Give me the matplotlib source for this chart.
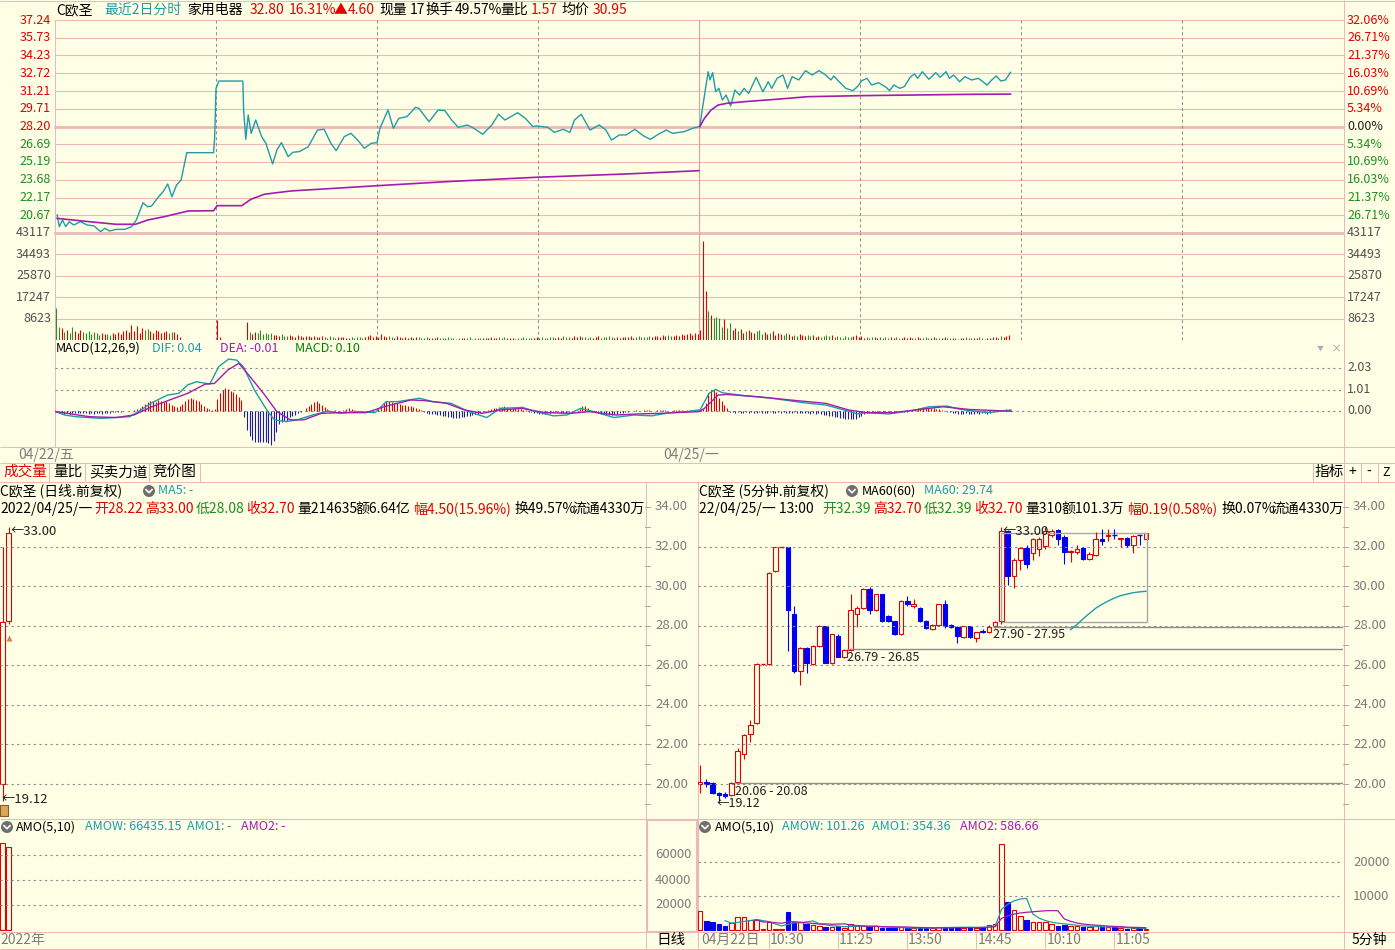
import numpy as np
import matplotlib.pyplot as plt
import matplotlib.transforms as mtransforms
from matplotlib.patches import Rectangle, Circle

plt.rcParams['font.family'] = ['Noto Sans CJK SC', 'DejaVu Sans']

# ---------------- data: intraday (2 days, minute index; day 2 offset by 240) ----------------
PRICE_TICKS = [37.24, 35.73, 34.23, 32.72, 31.21, 29.71, 28.20, 26.69, 25.19, 23.68, 22.17, 20.67]
PCT_TICKS = ['32.06%', '26.71%', '21.37%', '16.03%', '10.69%', '5.34%', '0.00%',
             '5.34%', '10.69%', '16.03%', '21.37%', '26.71%']
VOL_TICKS = [43117, 34493, 25870, 17247, 8623]
MACD_TICKS = [2.03, 1.01, 0.00]
TIME_GRID = [60, 120, 180, 300, 360, 420]

PRICE_D1 = [(0.8, 20.69), (1.6, 19.70), (2.8, 20.26), (4, 19.70), (5.3, 20.12), (7, 19.84), (9.5, 20.12),
            (12, 19.84), (14.5, 19.76), (17, 19.27), (18.6, 19.56), (20.3, 19.33), (22.8, 19.47), (26, 19.47),
            (28.6, 19.70), (30.3, 20.26), (32.8, 21.73), (34.5, 21.39), (36, 21.45), (38.6, 22.24),
            (40.3, 22.67), (42, 23.32), (43.6, 22.24), (45.3, 23.24), (47, 23.66), (49.1, 25.98),
            (59.1, 25.98), (59.5, 27.20), (60, 31.44), (61.1, 32.06), (70, 32.06), (70.3, 29.60),
            (71.1, 27.11), (72, 29.18), (73.1, 27.62), (74.8, 28.75), (77, 27.34), (78.6, 26.77),
            (81.1, 25.02), (82.8, 26.27), (84.4, 26.83), (86.9, 25.64), (88.6, 26.01), (91.1, 26.07),
            (94.4, 26.49), (97.8, 27.90), (100.3, 27.96), (102.8, 26.77), (104.8, 26.15), (107.8, 27.34),
            (110.3, 27.62), (112.8, 27.05), (115.3, 26.35), (117.8, 26.77), (120, 26.83), (121.1, 28.05),
            (124.1, 29.60), (126.1, 28.05), (128.1, 28.89), (131.1, 29.03), (134.4, 29.83), (135.6, 29.74),
            (139.4, 28.61), (142.8, 29.60), (145.3, 29.55), (147.8, 28.75), (150.3, 28.13), (153.6, 28.33),
            (156.1, 28.05), (159.4, 27.54), (162.8, 28.33), (165.3, 29.24), (167.7, 28.75), (172.4, 29.37),
            (175.3, 28.89), (178.1, 28.19), (179.4, 28.25), (183.6, 28.13), (186.1, 27.70), (189.4, 27.96),
            (191.9, 27.70), (193.6, 28.75), (196.1, 29.24), (199.4, 27.90), (202.8, 28.33), (205.3, 27.90),
            (207.4, 27.05), (210.3, 27.48), (212.8, 27.48), (216.1, 27.96), (219.4, 27.39), (221.9, 27.11),
            (224.4, 27.48), (227.8, 27.90), (230.2, 27.62), (234.4, 27.76), (237.7, 28.05), (240, 28.20)]
PRICE_D2 = [(0.3, 28.19), (1.2, 29.60), (3.4, 32.85), (4.1, 32.15), (5.1, 32.77), (6.2, 31.15), (7.4, 31.44),
            (8.7, 30.45), (10.1, 30.87), (11.8, 29.94), (13.4, 31.30), (15.1, 30.87), (16.8, 31.44),
            (18.5, 31.00), (21.3, 32.38), (23.8, 31.15), (25.8, 32.00), (27.1, 31.44), (29.1, 32.29),
            (31.3, 32.57), (33.0, 31.44), (34.7, 32.43), (37.2, 32.15), (39.7, 32.94), (42.2, 32.57),
            (44.7, 32.94), (47.2, 32.57), (49.2, 32.15), (50.2, 32.49), (52.2, 32.00), (54.7, 31.44),
            (57.3, 31.24), (59.3, 31.64), (60.6, 32.08), (62.6, 32.29), (64.3, 31.72), (66.9, 31.92),
            (69.8, 31.52), (71.0, 31.24), (72.6, 31.72), (74.8, 31.44), (76.5, 31.58), (78.7, 32.38),
            (80.3, 32.66), (81.5, 32.29), (83.2, 32.85), (85.7, 32.21), (88.2, 32.77), (89.9, 32.38),
            (92.1, 32.85), (93.3, 32.29), (94.9, 32.57), (97.1, 32.00), (99.1, 32.43), (101.6, 32.15),
            (104.1, 32.29), (107.4, 31.72), (109.1, 32.15), (110.8, 32.49), (112.5, 32.06), (114.2, 32.15),
            (116.1, 32.80)]
AVG_D1 = [(0.8, 20.40), (12.8, 20.12), (22.8, 19.90), (30.0, 19.90), (34.5, 20.26), (40.8, 20.55),
          (49.7, 21.03), (59.1, 21.05), (60.4, 21.48), (69.6, 21.48), (73.0, 22.02), (78.0, 22.45),
          (88.0, 22.73), (104.7, 22.96), (120.5, 23.18), (146.1, 23.52), (179.4, 23.89), (212.8, 24.17),
          (240.0, 24.45)]
AVG_D2 = [(0.3, 28.19), (2.0, 28.89), (4.5, 29.60), (7.1, 30.02), (10.4, 30.17), (17.1, 30.31),
          (30.5, 30.54), (40.5, 30.73), (60.6, 30.82), (79.0, 30.87), (100.8, 30.93), (116.1, 30.95)]

VOL_D1 = [12900, 5400, 4700, 3400, 4000, 2700, 5400, 3800, 3000, 4200,
          3300, 2800, 3600, 2500, 3100, 2700, 2200, 2900, 2400, 2600,
          2100, 2800, 2300, 3200, 2600, 3500, 4200, 3300, 6100, 3800,
          5700, 3000, 4700, 3900, 4400, 3500, 3000, 4100, 3600, 2900,
          3300, 3800, 2800, 3400, 3100, 2600, 1200, 0, 0, 0,
          0, 0, 0, 0, 0, 0, 0, 0, 0, 0,
          8100, 1300, 0, 0, 0, 0, 0, 0, 0, 0,
          0, 7400, 3400, 2600, 3100, 2900, 4000, 2300, 3000, 2500,
          2800, 1900, 2200, 1600, 2400, 1800, 1500, 2100, 1700, 1400,
          1900, 1600, 1300, 1800, 1500, 1200, 1700, 1400, 1100, 1600,
          1300, 1000, 1500, 1200, 900, 1400, 1100, 1300, 1000, 800,
          1200, 900, 1100, 1400, 1000, 1300, 1600, 2200, 1400, 1800,
          1100, 2400, 1500, 1200, 1700, 1300, 1000, 1500, 1100, 900,
          1300, 1000, 1200, 800, 1100, 1400, 900, 1000, 1200, 700,
          1000, 800, 1100, 900, 700, 1000, 1200, 800, 900, 600,
          900, 700, 1000, 800, 1100, 600, 900, 700, 800, 1000,
          700, 900, 1200, 800, 1000, 1400, 900, 1100, 700, 800,
          1000, 600, 900, 800, 1100, 700, 900, 1000, 800, 1200,
          900, 1300, 1000, 800, 1100, 1400, 900, 1200, 1000, 1500,
          1100, 1300, 1000, 1600, 1200, 1700, 1300, 1100, 1000, 1400,
          900, 1200, 1500, 1000, 1300, 1100, 1600, 1200, 900, 1300,
          1000, 1400, 1100, 1200, 1500, 1000, 1300, 1700, 1200, 1400,
          1100, 1600, 1300, 1800, 1500, 1400, 1900, 1600, 2000, 1700,
          1500, 2100, 1800, 2400, 2000, 2300, 2700, 2200, 2900, 2600]
VOL_D2 = [4000, 39800, 19800, 11500, 10100, 8800, 9200, 8800, 5400, 8300,
          4700, 6700, 4000, 5000, 3600, 4400, 3000, 3800, 4200, 3300,
          2800, 3500, 3900, 2600, 3100, 2400, 2900, 3600, 2200, 2700,
          2300, 2000, 2900, 2500, 1800, 2100, 1700, 2400, 1900, 1500,
          2000, 1600, 2200, 1400, 1800, 1300, 1700, 2000, 1500, 1900,
          1200, 1600, 1400, 1000, 1700, 1300, 1100, 1500, 2000, 1200,
          1800, 1000, 1300, 900, 1100, 1400, 800, 1200, 1000, 1300,
          900, 1100, 800, 1400, 1000, 700, 1200, 900, 1100, 800,
          1000, 1300, 900, 700, 1100, 800, 1000, 1200, 700, 900,
          800, 1100, 900, 700, 1000, 800, 600, 900, 700, 1100,
          800, 1000, 700, 900, 1200, 800, 600, 1000, 900, 1100,
          1300, 900, 1500, 1100, 1700, 1900]

# MACD histogram, in hundredths
MACD_D1 = [-3, -8, -10, -12, -10, -12, -9, -11, -8, -10,
           -9, -11, -12, -10, -13, -11, -10, -12, -9, -11,
           -8, -6, -4, -5, -3, -2, -2, 0, 2, 3,
           8, 15, 25, 35, 42, 45, 48, 44, 50, 46,
           42, 45, 38, 30, 25, 20, 22, 35, 48, 55,
           62, 58, 52, 45, 35, 25, 15, 8, 4, 10,
           55, 85, 100, 107, 105, 95, 88, 78, 65, 50,
           -30, -90, -120, -135, -145, -145, -145, -145, -145, -150,
           -160, -140, -100, -60, -50, -45, -45, -30, -25, -20,
           -8, -3, 2, 12, 25, 35, 42, 45, 40, 30,
           20, 8, -3, -5, 3, -4, 2, 6, 10, 12,
           8, 5, -3, -5, -6, -5, -4, -6, -3, 2,
           10, 25, 40, 48, 45, 42, 40, 38, 35, 30,
           28, 25, 22, 20, 15, 10, 5, -3, -8, -12,
           -15, -12, -18, -20, -22, -25, -28, -30, -32, -35,
           -33, -30, -28, -25, -22, -18, -15, -12, -8, -5,
           -3, 3, 8, 12, 15, 18, 20, 22, 18, 15,
           12, 15, 10, 8, 5, 3, -3, -5, -8, -10,
           -12, -15, -12, -10, -8, -6, -5, -6, -8, -10,
           -8, -6, -5, -3, -2, 10, 22, 25, 15, 5,
           -3, -5, -8, -12, -15, -18, -20, -18, -15, -12,
           -10, -8, -5, -3, -2, 2, 3, 2, -2, 3,
           3, 4, 2, -2, 3, 5, 4, 3, 2, -2,
           3, 4, 5, 3, 2, 4, 5, 6, 5, 4]
MACD_D2 = [3, 10, 40, 80, 100, 100, 90, 60, 45, 30,
           15, -5, -6, -8, -7, -9, -8, -6, -9, -7,
           -8, -10, -7, -9, -8, -10, -7, -9, -8, -6,
           -9, -7, -10, -8, -9, -7, -10, -8, -11, -9,
           -8, -12, -10, -13, -11, -15, -18, -20, -22, -25,
           -28, -30, -32, -35, -38, -40, -40, -38, -36, -30,
           -25, -15, -8, -5, -4, -6, -5, -4, -6, -5,
           -4, -5, -6, -4, -5, -3, -4, -3, -2, 3,
           8, 12, 15, 18, 20, 18, 15, 12, 10, 8,
           5, 2, -3, -6, -8, -10, -12, -14, -12, -10,
           -12, -14, -13, -11, -12, -10, -8, -12, -10, -6,
           3, 5, 4, 6, 8, 10]
DIF = [(0.3, -0.03), (3.6, -0.19), (7.8, -0.27), (16.9, -0.35), (27.8, -0.27), (31.1, -0.03), (36.1, 0.39),
       (41.9, 0.75), (46.1, 0.83), (49.4, 1.23), (52.7, 1.38), (57.7, 1.27), (61.0, 2.09), (64.7, 2.45),
       (67.7, 2.40), (70.2, 2.09), (74.3, 0.99), (79.3, -0.03), (81.8, -0.42), (86.0, -0.50), (90.2, -0.42),
       (96.0, -0.19), (101.8, 0.0), (106.0, -0.11), (112.6, -0.03), (119.3, -0.08), (123.4, 0.44),
       (127.6, 0.44), (135.9, 0.60), (140.9, 0.44), (147.6, 0.36), (154.2, -0.03), (160.9, -0.31),
       (165.9, 0.12), (174.2, 0.17), (179.2, -0.03), (185.8, -0.23), (190.8, -0.19), (195.8, 0.12),
       (200.8, -0.03), (208.3, -0.31), (215.8, -0.19), (222.4, -0.23), (229.1, -0.08), (235.7, -0.03),
       (239.9, 0.05), (240.4, 0.05), (243.7, 0.83), (246.2, 1.02), (248.7, 0.86), (257.1, 0.72),
       (267.2, 0.60), (278.9, 0.39), (287.3, 0.28), (294.0, 0.05), (299.0, -0.14), (302.4, -0.08),
       (310.7, -0.14), (320.8, 0.05), (325.8, 0.20), (332.5, 0.23), (337.6, 0.07), (347.6, -0.08),
       (356.3, 0.04)]
DEA = [(0.3, -0.03), (12.8, -0.27), (22.8, -0.31), (29.4, -0.19), (36.1, 0.20), (42.7, 0.52), (49.4, 0.83),
       (56.0, 1.27), (59.4, 1.30), (64.4, 1.93), (68.5, 2.25), (72.7, 1.62), (77.7, 0.83), (82.7, -0.03),
       (87.7, -0.42), (92.7, -0.42), (99.3, -0.11), (106.0, -0.08), (115.9, -0.08), (122.6, 0.20),
       (132.6, 0.52), (137.6, 0.49), (145.9, 0.36), (152.6, 0.05), (159.2, -0.11), (165.9, 0.05),
       (174.2, 0.12), (182.5, -0.08), (192.5, -0.11), (199.1, -0.03), (209.1, -0.19), (217.4, -0.14),
       (225.8, -0.11), (239.9, -0.03), (242.0, 0.12), (247.1, 0.75), (250.4, 0.78), (262.2, 0.67),
       (273.9, 0.52), (287.3, 0.36), (295.7, 0.05), (302.4, -0.08), (312.4, -0.08), (320.8, 0.05),
       (330.9, 0.20), (340.9, 0.07), (356.3, -0.01)]

# ---------------- data: daily K-line ----------------
DAY_O = [20.00, 28.22]
DAY_H = [32.00, 33.00]
DAY_L = [19.12, 28.08]
DAY_C = [28.20, 32.70]
DAY_AMO = [69300, 66435]
DAY_MARK = (1, 27.40)

# ---------------- data: 5-minute K-line ----------------
O5 = [20.00, 20.08, 20.05, 19.55, 19.50, 19.45, 20.08, 21.50, 22.55, 23.10,
      26.05, 26.05, 30.77, 32.00, 32.00, 28.60, 25.70, 26.88, 26.07, 26.95,
      28.00, 26.10, 27.47, 26.44, 26.78, 28.60, 28.90, 29.85, 28.80, 29.60,
      28.50, 28.25, 27.60, 29.27, 29.00, 28.90, 28.25, 27.85, 28.05, 29.10,
      28.05, 27.95, 27.45, 28.00, 27.40, 27.75, 27.70, 27.97, 28.22, 32.78,
      30.50, 31.30, 31.95, 31.70, 31.90, 32.05, 32.60, 32.85, 32.50, 31.75,
      31.75, 31.95, 31.35, 31.55, 32.40, 32.55, 32.62, 32.40, 32.45, 32.10,
      32.62, 32.39]
H5 = [20.97, 20.25, 20.10, 19.60, 19.60, 20.10, 21.80, 22.55, 23.25, 26.10,
      26.08, 30.70, 32.00, 32.00, 32.00, 29.00, 26.90, 26.90, 27.00, 28.05,
      28.00, 27.60, 27.60, 26.80, 29.59, 29.00, 29.90, 29.95, 29.60, 29.60,
      28.55, 28.25, 29.30, 29.50, 29.35, 28.95, 28.30, 28.10, 29.10, 29.30,
      28.10, 28.00, 28.00, 28.00, 27.70, 27.85, 28.05, 28.25, 33.00, 32.85,
      31.40, 32.00, 32.10, 32.45, 32.50, 33.00, 32.90, 32.90, 32.60, 31.85,
      32.10, 32.00, 31.75, 32.75, 32.90, 32.90, 32.90, 32.45, 32.50, 32.60,
      32.65, 32.70]
L5 = [19.55, 19.85, 19.50, 19.12, 19.30, 19.40, 20.00, 21.25, 22.10, 23.05,
      26.00, 26.00, 30.70, 31.98, 26.70, 25.60, 24.99, 25.60, 26.00, 26.90,
      26.10, 26.05, 26.40, 26.35, 26.70, 27.95, 28.85, 28.60, 28.75, 28.20,
      28.20, 27.55, 27.55, 29.00, 28.90, 28.20, 27.85, 27.80, 28.00, 27.90,
      27.90, 27.15, 27.40, 27.40, 27.20, 27.65, 27.65, 27.90, 28.08, 30.05,
      29.90, 30.80, 30.90, 31.30, 31.50, 31.90, 32.50, 32.10, 31.10, 31.20,
      31.60, 31.30, 31.30, 31.50, 32.10, 32.30, 32.40, 32.00, 32.00, 31.70,
      32.10, 32.39]
C5 = [20.08, 20.02, 19.55, 19.45, 19.40, 20.06, 21.65, 22.50, 23.00, 26.05,
      26.06, 30.65, 31.96, 32.00, 28.80, 25.70, 26.88, 26.10, 26.95, 28.00,
      26.13, 27.57, 26.44, 26.78, 28.80, 28.90, 29.85, 28.80, 29.60, 28.25,
      28.25, 27.60, 29.27, 29.10, 29.10, 28.25, 27.90, 28.05, 29.10, 28.00,
      27.95, 27.50, 28.00, 27.45, 27.70, 27.70, 27.95, 28.20, 32.80, 30.50,
      31.30, 31.95, 31.10, 32.40, 32.40, 32.80, 32.80, 32.40, 31.75, 31.80,
      31.90, 31.35, 31.60, 32.40, 32.30, 32.60, 32.58, 32.45, 32.10, 32.55,
      32.58, 32.70]
MA60_START = 59
MA60 = [27.80, 28.05, 28.35, 28.62, 28.88, 29.08, 29.25, 29.40, 29.52, 29.60, 29.67, 29.71, 29.74]
AMO5 = [5600, 2650, 2250, 1750, 1200, 1950, 3700, 3700, 2950, 2950,
        200, 2150, 200, 100, 5400, 2350, 2150, 1650, 1450, 1200,
        800, 800, 1000, 600, 1650, 1000, 1000, 800, 1000, 500,
        500, 500, 700, 500, 500, 500, 500, 500, 700, 800,
        700, 800, 600, 700, 600, 800, 1350, 1750, 25500, 8300,
        5900, 4100, 2750, 2250, 2150, 2250, 1750, 1200, 1450, 1200,
        1000, 800, 800, 1000, 800, 700, 800, 500, 100, 500,
        600, 100]
AMO1_START = 4
AMO1 = [2690, 1960, 2170, 2460, 2700, 3050, 2700, 2390, 1690, 1120,
        1610, 2040, 2040, 2330, 2600, 1760, 1450, 1180, 1050, 880,
        970, 1010, 1050, 1010, 1090, 860, 760, 660, 640, 540,
        540, 540, 540, 500, 540, 600, 640, 700, 720, 720,
        680, 700, 810, 1040, 6000, 7540, 8560, 9110, 9310, 4660,
        3430, 2700, 2230, 1920, 1760, 1570, 1320, 1130, 1050, 960,
        880, 820, 820, 760, 580, 520, 500, 354]
AMO2_START = 9
AMO2 = [2870, 2330, 2280, 2075, 1910, 2330, 2370, 2215, 2010, 1860,
        1685, 1745, 1610, 1690, 1740, 1365, 1230, 1115, 1030, 985,
        915, 885, 855, 825, 815, 700, 650, 600, 570, 540,
        570, 590, 620, 610, 630, 640, 670, 755, 875, 3355,
        4105, 4625, 4955, 5170, 5325, 5480, 5625, 5665, 5610, 3205,
        2495, 2005, 1675, 1480, 1355, 1220, 1065, 970, 900, 765,
        695, 655, 587]
SUPPORT_LEVEL = [20.03, 26.81, 27.95]
SUPPORT_START = [5.6, 23.4, 46.7]
SUPPORT_TEXT = ['20.06 - 20.08', '26.79 - 26.85', '27.90 - 27.95']
BOX_BARS = (48, 71.1)
BOX_PRICE = (28.18, 32.67)
LO_TICKS = [34, 32, 30, 28, 26, 24, 22, 20]
TIME_TICKS = [0, 11, 22, 33, 44, 55, 66]
TIME_LABELS = ['04月22日', '10:30', '11:25', '13:50', '14:45', '10:10', '11:05']

# ---------------- styling ----------------
W, H = 1395, 950
BG = '#FFFFE6'
PINK = '#EDB8B8'
RED = '#E00000'
GREEN = '#1F8F1F'
BLUE = '#0000F5'
NAVY = '#1A1AA8'
TEAL = '#1E9CA8'
PURPLE = '#A21CAF'
GRAY = '#7C7C7C'
DOT = '#8C8C8C'
DOTS = (0, (2, 3))

fig = plt.figure(figsize=(W / 100, H / 100), dpi=100, facecolor=BG)


def box(x0, y0, x1, y1):
    ax = fig.add_axes([x0 / W, 1 - y1 / H, (x1 - x0) / W, (y1 - y0) / H])
    ax.set_facecolor('none')
    ax.axis('off')
    return ax


ov = box(0, 0, W, H)
ov.set_xlim(0, W)
ov.set_ylim(H, 0)


def line(x0, y0, x1, y1, color=PINK, lw=0.75, ls='-'):
    ov.plot([x0, x1], [y0, y1], color=color, lw=lw, ls=ls, solid_capstyle='butt')


def txt(x, y, s, color='k', size=10, ha='left'):
    ov.text(x, y, s, color=color, fontsize=size, ha=ha, va='center')


def runs(x, y, parts, size=10, unit=7.25):
    for s, col in parts:
        txt(x, y, s, col, size)
        x += unit * sum(2 if ord(ch) > 0x2000 else 1 for ch in s)


def icon(x, y):
    ov.add_patch(Circle((x, y), 6, fc='#6E6E6E', ec='none'))
    ov.plot([x - 3, x, x + 3], [y - 1.3, y + 1.7, y - 1.3], color='white', lw=1.2)


def candles(ax, o, h, l, c, width):
    for i, (oo, hh, ll, cc) in enumerate(zip(o, h, l, c)):
        col = RED if cc >= oo else BLUE
        lo_b, hi_b = min(oo, cc), max(oo, cc)
        ax.vlines(i, ll, lo_b, color=col, lw=0.8)
        ax.vlines(i, hi_b, hh, color=col, lw=0.8)
        if hi_b - lo_b < 0.05:
            ax.hlines(cc, i - width / 2, i + width / 2, color=col, lw=1.0)
        else:
            ax.add_patch(Rectangle((i - width / 2, lo_b), width, hi_b - lo_b,
                                   facecolor=BG if col == RED else col, edgecolor=col, lw=0.8))


# ---------------- frame lines ----------------
for y in (0.5, 447, 463, 481.5, 819, 932, 948.5):
    line(0, y, W, y)
line(55, 20, 55, 447)
line(1343.5, 0, 1343.5, 948.5)
line(645.5, 481.5, 645.5, 948.5)
line(697.5, 481.5, 697.5, 948.5)
ov.add_patch(Rectangle((646.5, 820), 50, 112, fill=False, ec=PINK, lw=1.5))

# ---------------- top: intraday price ----------------
ax_p = box(55, 20, 1343, 233)
ax_p.set_xlim(0, 480)
ax_p.set_ylim(19.16, 37.24)
tr = ax_p.get_yaxis_transform()
for v, pct in zip(PRICE_TICKS, PCT_TICKS):
    ax_p.axhline(v, color=PINK, lw=2.0 if v == 28.20 else 0.8, clip_on=False)
    col = RED if v >= 28.20 else GREEN
    ax_p.text(-4 / 1288, v, f'{v:.2f}', transform=tr, ha='right', va='center', color=col, fontsize=9)
    pcol = RED if v > 28.20 else ('#202020' if v == 28.20 else GREEN)
    ax_p.text(1 + 4 / 1288, v, pct, transform=tr, ha='left', va='center', color=pcol, fontsize=9)
for m in TIME_GRID:
    ax_p.axvline(m, color='#8A8A8A', lw=0.7, ls=(0, (3, 3)))
ax_p.axvline(240, color='#D0A8A8', lw=0.9)

m1, p1 = zip(*PRICE_D1)
m2, p2 = zip(*PRICE_D2)
pm = np.concatenate([m1, np.array(m2) + 240])
pp = np.concatenate([p1, p2])
ax_p.plot(pm, pp, color=TEAL, lw=1.0)
a1m, a1v = zip(*AVG_D1)
a2m, a2v = zip(*AVG_D2)
ax_p.plot(a1m, a1v, color=PURPLE, lw=1.2)
ax_p.plot(np.array(a2m) + 240, a2v, color=PURPLE, lw=1.2)

# ---------------- top: intraday volume ----------------
ax_v = box(55, 233, 1343, 340)
ax_v.set_xlim(0, 480)
ax_v.set_ylim(0, 43117)
tr = ax_v.get_yaxis_transform()
for v in VOL_TICKS:
    ax_v.axhline(v, color=PINK, lw=2.0 if v == VOL_TICKS[0] else 0.8, clip_on=False)
    ax_v.text(-4 / 1288, v, str(v), transform=tr, ha='right', va='center', color='#505050', fontsize=9)
    ax_v.text(1 + 4 / 1288, v, str(v), transform=tr, ha='left', va='center', color='#505050', fontsize=9)
for m in TIME_GRID:
    ax_v.axvline(m, color='#8A8A8A', lw=0.7, ls=(0, (3, 3)))
ax_v.axvline(240, color='#D0A8A8', lw=0.9)
tv = np.concatenate([np.arange(len(VOL_D1)), 240 + np.arange(len(VOL_D2))]) + 0.5
vv = np.concatenate([VOL_D1, VOL_D2])
rise = np.interp(tv + 0.5, pm, pp) >= np.interp(tv - 0.5, pm, pp)
ax_v.vlines(tv, 0, vv, colors=np.where(rise, RED, '#2E8B2E'), lw=0.8)

# ---------------- top: MACD ----------------
ax_m = box(55, 340, 1343, 447)
ax_m.set_xlim(0, 480)
ax_m.set_ylim(-1.70, 3.35)
tr = ax_m.get_yaxis_transform()
for v in MACD_TICKS:
    ax_m.axhline(v, color=DOT, lw=0.8, ls=DOTS)
    ax_m.text(1 + 4 / 1288, v, f'{v:.2f}', transform=tr, ha='left', va='center', color='#505050', fontsize=9)
th = np.concatenate([np.arange(len(MACD_D1)), 240 + np.arange(len(MACD_D2))]) + 0.5
hv = np.concatenate([MACD_D1, MACD_D2]) / 100
ax_m.vlines(th, 0, hv, colors=np.where(hv >= 0, RED, NAVY), lw=0.8)
dm, dv = zip(*DIF)
em, ev = zip(*DEA)
ax_m.plot(dm, dv, color=TEAL, lw=1.0)
ax_m.plot(em, ev, color=PURPLE, lw=1.0)

# ---------------- top texts ----------------
for x, s, c in [(56, 'C欧圣', 'k'), (104, '最近2日分时', TEAL), (187, '家用电器', 'k'), (250, '32.80', RED),
                (289, '16.31%', RED), (334, '▲', RED), (348, '4.60', RED), (379, '现量', 'k'), (410, '17', 'k'),
                (425, '换手', 'k'), (455, '49.57%', 'k'), (500, '量比', 'k'), (531, '1.57', RED),
                (562, '均价', 'k'), (593, '30.95', RED)]:
    txt(x, 10, s, c, 10)
for x, s, c in [(56, 'MACD(12,26,9)', 'k'), (152, 'DIF: 0.04', TEAL), (220, 'DEA: -0.01', PURPLE),
                (295, 'MACD: 0.10', '#008000')]:
    txt(x, 348, s, c, 9)
txt(1320, 349, '▼', '#B0B0B0', 5, 'center')
txt(1336, 349, '×', '#A0A0A0', 8, 'center')
txt(18, 455, '04/22/五', GRAY, 10)
txt(663, 455, '04/25/一', GRAY, 10)

# tabs
for x, s, c in [(3, '成交量', RED), (53, '量比', 'k'), (89, '买卖力道', 'k'), (152, '竞价图', 'k')]:
    txt(x, 472, s, c, 10.5)
for x in (48.5, 84.5, 148.5, 199.5):
    line(x, 463, x, 481.5)
txt(1315, 472, '指标', 'k', 10.5)
txt(1352, 472, '+', 'k', 10, 'center')
txt(1369, 472, '-', 'k', 10, 'center')
txt(1386, 472, 'Z', 'k', 9, 'center')
for x in (1312.5, 1360.5, 1377.5, 1394.5):
    line(x, 463, x, 481.5)

# ---------------- lower: daily chart ----------------
LO_LO, LO_HI = 18.282, 35.263
ax_d = box(0, 482, 645, 818)
ax_d.set_xlim(-2.5 / 6, (645 - 2.5) / 6)
ax_d.set_ylim(LO_LO, LO_HI)
ax_5 = box(698, 482, 1343, 818)
ax_5.set_xlim(-2 / 6.28, -2 / 6.28 + 645 / 6.28)
ax_5.set_ylim(LO_LO, LO_HI)
for ax in (ax_d, ax_5):
    tr = ax.get_yaxis_transform()
    for v in LO_TICKS:
        if v < 34:
            ax.axhline(v, color=DOT, lw=0.8, ls=DOTS)
        ax.text(1 + 10 / 645, v, f'{v:.2f}', transform=tr, ha='left', va='center', color=GRAY, fontsize=9.5)
    for v in range(19, 35):
        ax.plot([1, 1 + 5 / 645], [v, v], color='#A8A8A8', lw=0.7, transform=tr, clip_on=False)

candles(ax_d, DAY_O, DAY_H, DAY_L, DAY_C, 0.8)
ax_d.plot(*DAY_MARK, marker='^', color='#F07840', ms=5, mec='none')
ax_d.text(1.3, DAY_H[1] - 0.26, '←33.00', color='#202020', fontsize=9.5, va='center')
ax_d.text(-0.1, DAY_L[0] + 0.12, '←19.12', color='#202020', fontsize=9.5, va='center')
ov.add_patch(Rectangle((0, 805), 8, 11, fc='#D9A860', ec='#8A5A20', lw=0.8))

candles(ax_5, O5, H5, L5, C5, 0.72)
for lv, st, s in zip(SUPPORT_LEVEL, SUPPORT_START, SUPPORT_TEXT):
    ax_5.hlines(lv, st, ax_5.get_xlim()[1], color='#8C8C8C', lw=1.0)
    ax_5.text(st, lv - 0.40, s, color='#202020', fontsize=9, va='center')
ax_5.add_patch(Rectangle((BOX_BARS[0], BOX_PRICE[0]), BOX_BARS[1] - BOX_BARS[0], BOX_PRICE[1] - BOX_PRICE[0],
                         fill=False, ec='#A8A8A8', lw=1.0))
ax_5.plot(np.arange(MA60_START, MA60_START + len(MA60)), MA60, color=TEAL, lw=1.0)
ax_5.text(48.1, 32.78, '←33.00', color='#202020', fontsize=9.5, va='center')
ax_5.text(2.6, 19.02, '←19.12', color='#202020', fontsize=9, va='center')

txt(0, 491, 'C欧圣 (日线.前复权)', 'k', 10)
icon(149, 491)
txt(158, 491, 'MA5: -', TEAL, 9)
runs(0, 509, [('2022/04/25/一', 'k'), ('开28.22', RED), ('高33.00', RED), ('低28.08', GREEN),
              ('收32.70', RED), ('量214635', 'k'), ('额6.64亿', 'k'), ('幅4.50(15.96%)', RED),
              ('换49.57%', 'k'), ('流通4330万', 'k')])
txt(699, 491, 'C欧圣 (5分钟.前复权)', 'k', 10)
icon(852, 491)
txt(862, 491, 'MA60(60)', 'k', 9)
txt(924, 491, 'MA60: 29.74', TEAL, 9)
runs(699, 509, [('22/04/25/一 13:00', 'k'), ('开32.39', GREEN), ('高32.70', RED), ('低32.39', GREEN),
                ('收32.70', RED), ('量310', 'k'), ('额101.3万', 'k'), ('幅0.19(0.58%)', RED),
                ('换0.07%', 'k'), ('流通4330万', 'k')])

# ---------------- lower: AMO panels ----------------
ax_ad = box(0, 820, 645, 932)
ax_ad.set_xlim(ax_d.get_xlim())
ax_ad.set_ylim(-1600, 88000)
ax_a5 = box(698, 820, 1343, 932)
ax_a5.set_xlim(ax_5.get_xlim())
ax_a5.set_ylim(-680, 32550)
for ax, ticks in ((ax_ad, [60000, 40000, 20000]), (ax_a5, [20000, 10000])):
    tr = ax.get_yaxis_transform()
    for v in ticks:
        ax.axhline(v, color=DOT, lw=0.8, ls=DOTS)
        ax.text(1 + 10 / 645, v, str(v), transform=tr, ha='left', va='center', color=GRAY, fontsize=9.5)

ax_ad.bar(np.arange(len(DAY_AMO)), DAY_AMO, width=0.8, color=BG, edgecolor=RED, lw=0.8)
up5 = np.array(C5) >= np.array(O5)
ax_a5.bar(np.arange(len(AMO5)), AMO5, width=0.72, color=np.where(up5, BG, BLUE),
          edgecolor=np.where(up5, RED, BLUE), lw=0.8)
ax_a5.plot(np.arange(AMO1_START, AMO1_START + len(AMO1)), AMO1, color=TEAL, lw=0.9)
ax_a5.plot(np.arange(AMO2_START, AMO2_START + len(AMO2)), AMO2, color=PURPLE, lw=0.9)

icon(7, 827)
for x, s, c in [(16, 'AMO(5,10)', 'k'), (85, 'AMOW: 66435.15', TEAL), (187, 'AMO1: -', TEAL),
                (241, 'AMO2: -', PURPLE)]:
    txt(x, 827, s, c, 9)
icon(705, 827)
for x, s, c in [(715, 'AMO(5,10)', 'k'), (782, 'AMOW: 101.26', TEAL), (872, 'AMO1: 354.36', TEAL),
                (960, 'AMO2: 586.66', PURPLE)]:
    txt(x, 827, s, c, 9)

# bottom time axis
txt(0, 940, '2022年', GRAY, 10)
txt(671, 940, '日线', 'k', 10.5, 'center')
txt(1352, 940, '5分钟', 'k', 10)
bt = mtransforms.blended_transform_factory(ax_a5.transData, ax_a5.transAxes)
for i, s in zip(TIME_TICKS, TIME_LABELS):
    ax_a5.text(i + 0.15, -8 / 112, s, transform=bt, ha='left', va='center', color=GRAY, fontsize=10, clip_on=False)
    if i > 0:
        ax_a5.plot([i, i], [0, -16 / 112], transform=bt, color=PINK, lw=0.75, clip_on=False)

fig.savefig('out.png', dpi=100, facecolor=BG)
